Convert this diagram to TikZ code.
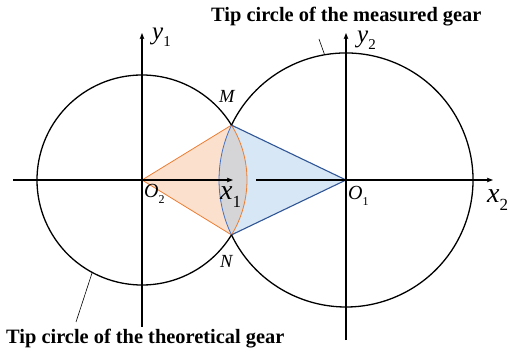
\documentclass[tikz,border=0pt]{standalone}
\usepackage{fontspec}
\setmainfont{Liberation Serif}
\usetikzlibrary{arrows.meta,calc}
\definecolor{orln}{HTML}{ED7D31}
\definecolor{orfill}{HTML}{F4B183}
\definecolor{blln}{HTML}{2F5597}
\definecolor{blarc}{HTML}{4472C4}
\definecolor{blfill}{HTML}{9DC3E6}
\newcommand{\axlab}[4]{{\fontsize{#3}{#3}\selectfont\itshape #1}\raisebox{-0.28\dimexpr #3pt\relax}{\fontsize{#4}{#4}\selectfont #2}}
\begin{document}
\begin{tikzpicture}[x=1pt,y=1pt,
  axis/.style={line width=1.2pt,-{Stealth[length=6pt,width=4.5pt,inset=1pt]}},
  circ/.style={line width=1.3pt},
  lbl/.style={inner sep=0pt,anchor=base west},
  pt/.style={inner sep=0pt,anchor=base west,font=\fontsize{18.5}{19}\selectfont\itshape},
  title/.style={inner sep=0pt,anchor=base west,font=\fontsize{20.4}{21}\selectfont\bfseries},
  leader/.style={line width=0.6pt}]
\useasboundingbox (0,0) rectangle (509,351);
\coordinate (O2) at (142,171);
\coordinate (O1) at (346,171);
\coordinate (M) at ($(O2)+(31.52:105)$);
\coordinate (N) at ($(O2)+(-31.52:105)$);
% fills
\fill[orfill,fill opacity=0.4] (O2) -- (N) arc[start angle=-31.52,end angle=31.52,radius=105] -- cycle;
\fill[blfill,fill opacity=0.4] (O1) -- (M) arc[start angle=154.38,end angle=205.62,radius=127] -- cycle;
% coloured edges
\draw[orln,line width=0.8pt] (M) -- (O2) -- (N) arc[start angle=-31.52,end angle=31.52,radius=105];
\draw[blln,line width=1.1pt] (M) -- (O1) -- (N);
\draw[blarc,line width=0.8pt] (M) arc[start angle=154.38,end angle=205.62,radius=127];
% black circle arcs
\draw[circ] (M) arc[start angle=31.52,end angle=328.48,radius=105];
\draw[circ] (N) arc[start angle=-154.38,end angle=154.38,radius=127];
% axes
\coordinate (xa0) at (13,171); \coordinate (xa1) at (233,171);
\coordinate (xb0) at (256,171); \coordinate (xb1) at (493,171);
\coordinate (ya0) at (142,24); \coordinate (ya1) at (142,318);
\coordinate (yb0) at (346,11); \coordinate (yb1) at (346,318);
\draw[axis] (xa0) -- (xa1);
\draw[axis] (xb0) -- (xb1);
\draw[axis] (ya0) -- (ya1);
\draw[axis] (yb0) -- (yb1);
% labels
\node[lbl] (ly1) at (152,311) {\axlab{y}{1}{25}{15}};
\node[lbl] (ly2) at (357,308) {\axlab{y}{2}{25}{15}};
\node[lbl] (lx1) at (220,151) {\axlab{x}{1}{28}{17}};
\node[lbl] (lx2) at (487,148) {\axlab{x}{2}{28}{17}};
\node[lbl] (lO2) at (144,153) {\axlab{O}{2}{20}{12}};
\node[lbl] (lO1) at (348,151) {\axlab{O}{1}{20}{12}};
\node[pt] (lM) at (219,248) {M};
\node[pt] (lN) at (220,83) {N};
% titles and leaders
\node[title] (tmeas) at (211,329) {Tip circle of the measured gear};
\node[title] (ttheo) at (6,8) {Tip circle of the theoretical gear};
\coordinate (t1s) at (319,312);
\coordinate (t1e) at ($(O1)+(99.7:127)$);
\coordinate (t2s) at (76,29);
\coordinate (t2e) at ($(O2)+(241.7:105)$);
\draw[leader] (t1s) -- (t1e);
\draw[leader] (t2s) -- (t2e);
\end{tikzpicture}
\end{document}
